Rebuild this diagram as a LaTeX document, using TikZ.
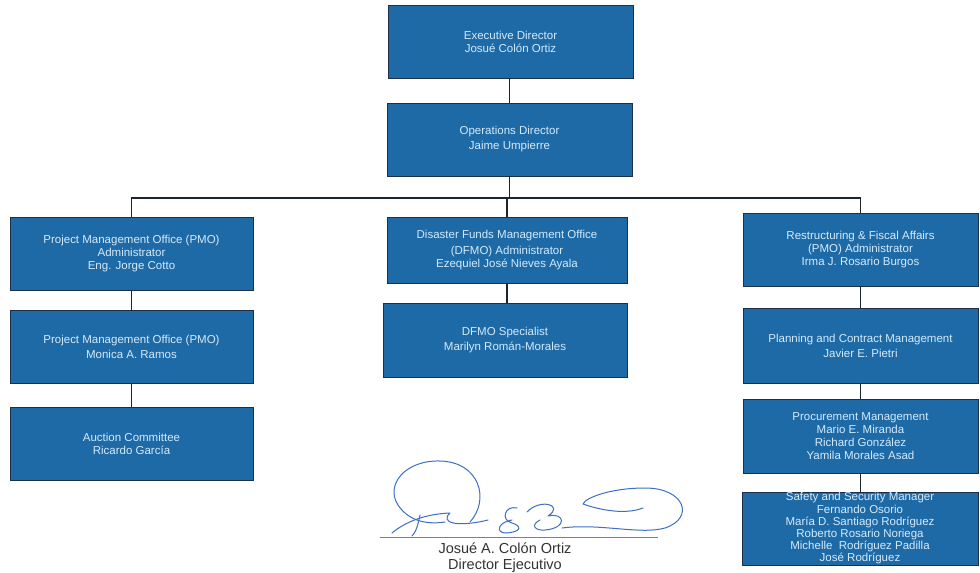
\documentclass[tikz,border=0pt]{standalone}
\usepackage{fontspec}
\setmainfont{Liberation Sans}
\definecolor{boxblue}{HTML}{1E6AA6}
\definecolor{boxedge}{HTML}{1B2F48}
\definecolor{boxtext}{HTML}{D4EAFB}
\definecolor{linkcol}{HTML}{1C2430}
\definecolor{sigblue}{HTML}{3D6FC4}
\definecolor{sigtext}{HTML}{333333}
\tikzset{
  orgbox/.style={draw=boxedge, line width=0.9pt, fill=boxblue, text=boxtext,
    align=center, inner sep=0pt, font=\fontsize{11.5}{13}\selectfont},
  link/.style={draw=linkcol, line width=1.6pt},
  sigline/.style={draw=sigblue, line width=1pt, line cap=round, line join=round},
  sigcap/.style={text=sigtext, font=\fontsize{14.5}{17}\selectfont, inner sep=0pt}
}
\begin{document}
\begin{tikzpicture}[x=1pt,y=-1pt]
\useasboundingbox[fill=white] (0,0) rectangle (980,573);

\node[orgbox, minimum width=245pt, minimum height=73pt] (exec) at (510.5,41.5)
  {Executive Director\\Josué Colón Ortiz};
\node[orgbox, minimum width=245pt, minimum height=73pt] (ops) at (509.5,139.5)
  {Operations Director\\[2pt]Jaime Umpierre};

\node[orgbox, minimum width=243pt, minimum height=73pt] (pmoa) at (131.5,253.5)
  {Project Management Office (PMO)\\Administrator\\Eng. Jorge Cotto};
\node[orgbox, minimum width=243pt, minimum height=73pt] (pmob) at (131.5,346.5)
  {Project Management Office (PMO)\\[2pt]Monica A. Ramos};
\node[orgbox, minimum width=243pt, minimum height=73pt] (auct) at (131.5,443.5)
  {Auction Committee\\Ricardo García};

\node[orgbox, minimum width=240pt, minimum height=66pt] (dfa) at (507,250)
  {Disaster Funds Management Office\\[3pt](DFMO) Administrator\\Ezequiel José Nieves Ayala};
\node[orgbox, minimum width=244pt, minimum height=74pt] (dfb) at (505,340)
  {DFMO Specialist\\[2pt]Marilyn Román-Morales};

\node[orgbox, minimum width=235pt, minimum height=73pt] (rfa) at (860.5,249.5)
  {Restructuring \& Fiscal Affairs\\(PMO) Administrator\\Irma J. Rosario Burgos};
\node[orgbox, minimum width=235pt, minimum height=75pt] (pcm) at (860.5,345.5)
  {Planning and Contract Management\\[2pt]Javier E. Pietri};
\node[orgbox, minimum width=235pt, minimum height=74pt] (proc) at (860.5,436)
  {Procurement Management\\Mario E. Miranda\\Richard González\\Yamila Morales Asad};
\node[orgbox, minimum width=236pt, minimum height=73pt, font=\fontsize{11.5}{12.2}\selectfont] (safe) at (860,528.5)
  {Safety and Security Manager\\Fernando Osorio\\María D. Santiago Rodríguez\\Roberto Rosario Noriega\\Michelle~ Rodríguez Padilla\\José Rodríguez};

\coordinate (bus) at (509.5,198);

\draw[link] (exec.south -| ops.north) -- (ops.north);
\draw[link] (ops.south) -- (bus);
\draw[link] (pmoa.north) |- (bus) -| (rfa.north);
\draw[link] (dfa.north) -- (dfa.north |- bus);
\draw[link] (pmoa.south) -- (pmob.north);
\draw[link] (pmob.south) -- (auct.north);
\draw[link] (dfa.south) -- (dfa.south |- dfb.north);
\draw[link] (rfa.south) -- (pcm.north);
\draw[link] (pcm.south) -- (proc.north);
\draw[link] (proc.south) -- (proc.south |- safe.north);

% signature
\draw[sigline] (392,533) .. controls (405,522) and (425,514) .. (450,513)
  .. controls (440,522) and (455,528) .. (488,520);
\draw[sigline] (470,522) .. controls (490,500) and (480,462) .. (440,461)
  .. controls (405,460) and (385,485) .. (398,505)
  .. controls (408,520) and (425,525) .. (445,522);
\draw[sigline] (420,515) .. controls (418,525) and (416,532) .. (412,536);
\draw[sigline] (517,508) .. controls (505,505) and (500,520) .. (512,523)
  .. controls (522,526) and (522,532) .. (506,533)
  .. controls (495,533) and (498,522) .. (512,520);
\draw[sigline] (527,512) .. controls (540,498) and (565,505) .. (548,516)
  .. controls (565,512) and (568,528) .. (545,530)
  .. controls (535,531) and (530,525) .. (540,520);
\draw[sigline] (562,528) .. controls (600,523) and (640,535) .. (665,528)
  .. controls (695,518) and (685,488) .. (645,488)
  .. controls (610,488) and (585,498) .. (583,504)
  .. controls (600,510) and (625,515) .. (643,508);

\coordinate (sl) at (380,537);
\coordinate (sr) at (658,537);
\draw[draw=gray, line width=0.8pt] (sl) -- (sr);
\node[sigcap] (signame) at (505,548) {Josué A. Colón Ortiz};
\node[sigcap] (sigrole) at (505,566) {Director Ejecutivo};
\end{tikzpicture}
\end{document}
